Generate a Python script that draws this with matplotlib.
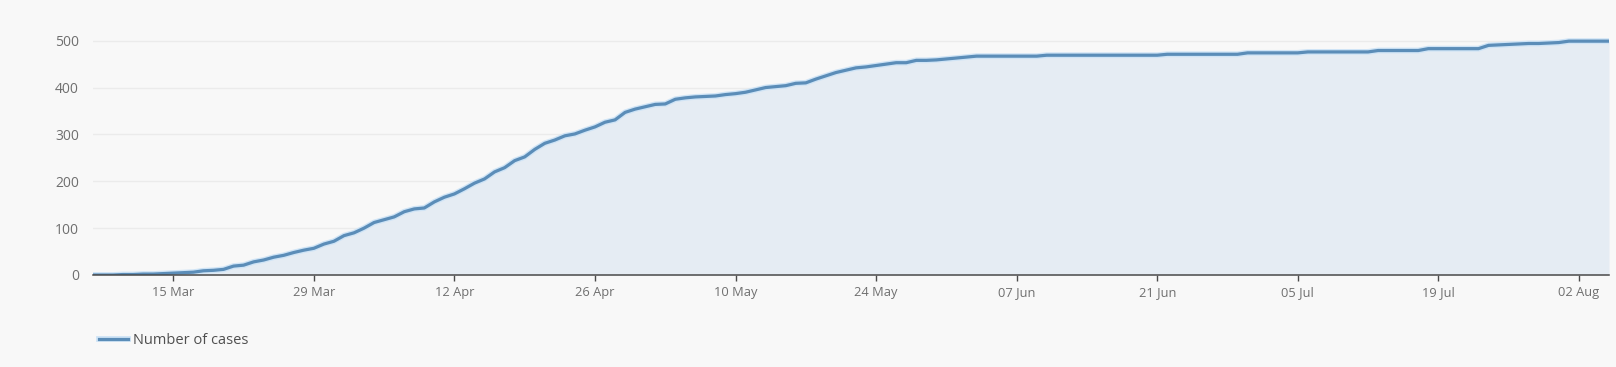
import numpy as np
import pandas as pd
import matplotlib
matplotlib.use("Agg")
import matplotlib.pyplot as plt
import matplotlib.dates as mdates
import matplotlib.patheffects as pe

plt.rcParams['font.family'] = ['Open Sans', 'DejaVu Sans']

start_date = "2020-03-07"
end_date = "2020-08-05"

# cumulative number of cases, one value per day from 7 Mar to 5 Aug
cases_mar = [0, 0, 0, 1, 1, 2, 2, 3, 4, 5, 6, 9, 10, 12, 19, 21, 28, 32, 38, 42,
             48, 53, 57, 66, 72]
cases_apr = [84, 90, 100, 112, 118, 124, 135, 141, 143, 156, 166, 173, 184, 196, 205,
             220, 229, 244, 252, 268, 281, 288, 297, 301, 309, 316, 326, 331, 347, 354]
cases_may = [359, 364, 365, 375, 378, 380, 381, 382, 385, 387, 390, 395, 400, 402, 404,
             409, 410, 418, 425, 432, 437, 442, 444, 447, 450, 453, 453, 458, 458, 459, 461]
cases_jun = [463, 465, 467, 467, 467, 467, 467, 467, 467, 469, 469, 469, 469, 469, 469,
             469, 469, 469, 469, 469, 469, 471, 471, 471, 471, 471, 471, 471, 471, 474]
cases_jul = [474, 474, 474, 474, 474, 476, 476, 476, 476, 476, 476, 476, 479, 479, 479,
             479, 479, 483, 483, 483, 483, 483, 483, 490, 491, 492, 493, 494, 494, 495, 496]
cases_aug = [499, 499, 499, 499, 499]

series_label = "Number of cases"
y_ticks = [0, 100, 200, 300, 400, 500]
x_tick_dates = ["2020-03-15", "2020-03-29", "2020-04-12", "2020-04-26", "2020-05-10",
                "2020-05-24", "2020-06-07", "2020-06-21", "2020-07-05", "2020-07-19",
                "2020-08-02"]

dates = pd.date_range(start_date, end_date, freq="D")
values = np.array(cases_mar + cases_apr + cases_may + cases_jun + cases_jul + cases_aug)
assert len(values) == len(dates)

BG = "#f8f8f8"
LINE = "#5b8db8"
FILL = "#e5ecf3"
HALO = "#cfe4f6"
TXT = "#6f6f6f"

W, H = 1616, 367
fig = plt.figure(figsize=(W / 100, H / 100), dpi=100, facecolor=BG)
left, right = 93 / W, 1609 / W
bottom, top = (H - 275) / H, (H - 30) / H
ax = fig.add_axes([left, bottom, right - left, top - bottom], facecolor=BG)

ax.fill_between(dates, values, 0, color=FILL, lw=0, zorder=1)
line, = ax.plot(dates, values, color=LINE, lw=2.3, zorder=3, solid_joinstyle="round",
                label=series_label,
                path_effects=[pe.Stroke(linewidth=4.2, foreground=HALO), pe.Normal()])

ax.set_xlim(dates[0], dates[-1])
ax.set_ylim(0, 522.8)
ax.set_yticks(y_ticks)
ax.set_xticks(pd.to_datetime(x_tick_dates))
ax.xaxis.set_major_formatter(mdates.DateFormatter("%d %b"))

ax.grid(axis="y", color="#ebebeb", lw=1, zorder=0)
ax.set_axisbelow(True)
for s in ["top", "right", "left"]:
    ax.spines[s].set_visible(False)
ax.spines["bottom"].set_color("#4a4a4a")
ax.spines["bottom"].set_linewidth(1.1)
ax.spines["bottom"].set_zorder(4)

ax.tick_params(axis="y", length=0, pad=10, labelsize=10, labelcolor=TXT)
ax.tick_params(axis="x", length=4, width=1, color="#4a4a4a", pad=4, labelsize=9.3,
               labelcolor=TXT)

fig.legend(handles=[line], loc="center left", bbox_to_anchor=(99 / W, (H - 341) / H),
           frameon=False, fontsize=10.5, handlelength=2.0, handletextpad=0.34,
           labelcolor="#4f4f4f", borderaxespad=0, borderpad=0)

fig.savefig("out.png", dpi=100, facecolor=BG)
